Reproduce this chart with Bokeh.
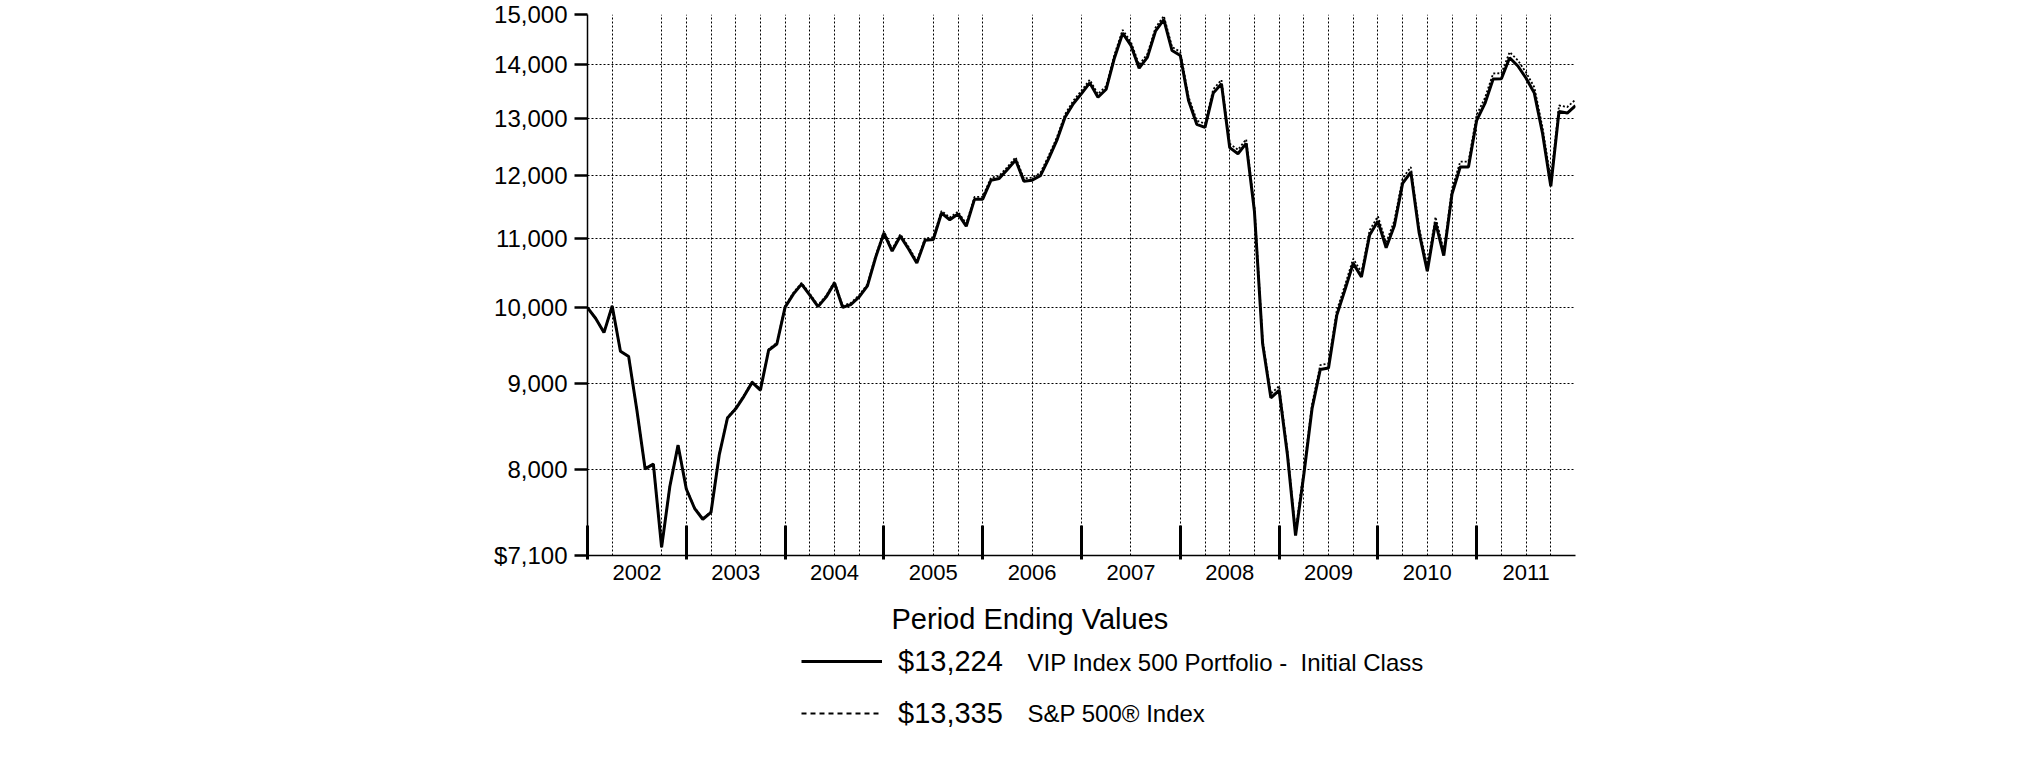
from bokeh.plotting import figure
from bokeh.layouts import column
from bokeh.models import Range1d, FixedTicker, Grid, Legend, LegendItem, Label
from bokeh.embed import file_html
from bokeh.resources import INLINE

# month index: 0 = Dec 2001, 120 = Dec 2011
months = list(range(121))

vip_values = [
    10000, 9853, 9663, 10025, 9417, 9347, 8680, 8003, 8056, 7180, 7811, 8270,
    7784, 7579, 7465, 7537, 8158, 8587, 8696, 8848, 9020, 8924, 9429, 9511,
    10008, 10191, 10332, 10176, 10016, 10152, 10348, 10005, 10045, 10153, 10307, 10724,
    11087, 10816, 11042, 10846, 10638, 10977, 10991, 11399, 11294, 11385, 11194, 11617,
    11620, 11927, 11958, 12106, 12268, 11913, 11929, 12002, 12287, 12603, 13013, 13260,
    13445, 13647, 13378, 13528, 14126, 14618, 14374, 13928, 14136, 14664, 14895, 14271,
    14172, 13320, 12887, 12831, 13455, 13629, 12479, 12374, 12552, 11432, 9513, 8829,
    8922, 8170, 7299, 7938, 8697, 9182, 9200, 9895, 10251, 10633, 10435, 11060,
    11273, 10866, 11202, 11877, 12064, 11099, 10518, 11255, 10747, 11704, 12148, 12148,
    12959, 13265, 13720, 13725, 14129, 13969, 13735, 13455, 12724, 11828, 13120, 13090,
    13224,
]

sp500_values = [
    10000, 9854, 9664, 10027, 9420, 9350, 8684, 8007, 8060, 7184, 7816, 8276,
    7790, 7586, 7472, 7545, 8167, 8597, 8707, 8860, 9033, 8937, 9443, 9526,
    10025, 10209, 10351, 10195, 10035, 10172, 10370, 10027, 10067, 10176, 10331, 10750,
    11115, 10844, 11071, 10875, 10668, 11008, 11023, 11433, 11329, 11421, 11230, 11655,
    11659, 11968, 12000, 12149, 12312, 11957, 11974, 12048, 12335, 12653, 13066, 13314,
    13501, 13705, 13436, 13587, 14189, 14684, 14440, 13993, 14203, 14734, 14968, 14342,
    14243, 13388, 12953, 12898, 13526, 13702, 12547, 12442, 12622, 11497, 9567, 8880,
    8974, 8218, 7343, 7986, 8750, 9239, 9258, 9958, 10317, 10702, 10503, 11133,
    11348, 10940, 11279, 11959, 12148, 11177, 10593, 11336, 10825, 11790, 12238, 12239,
    13057, 13366, 13825, 13831, 14240, 14079, 13844, 13563, 12827, 11925, 13228, 13199,
    13335,
]

year_labels = ["2002", "2003", "2004", "2005", "2006", "2007", "2008", "2009", "2010", "2011"]
year_mid = [6, 18, 30, 42, 54, 66, 78, 90, 102, 114]
year_edges = [0, 12, 24, 36, 48, 60, 72, 84, 96, 108]
grid_months = [3, 9, 12, 15, 18, 21, 24, 27, 30, 33, 36, 42, 45, 48, 54, 60, 66,
               72, 75, 78, 81, 84, 87, 90, 93, 96, 99, 102, 105, 108, 111, 114, 117]

ytick_values = [7100, 8000, 9000, 10000, 11000, 12000, 13000, 14000, 15000]
ytick_labels = ["$7,100", "8,000", "9,000", "10,000", "11,000", "12,000", "13,000", "14,000", "15,000"]

legend_values = ["$13,224", "$13,335"]
series_names = ["VIP Index 500 Portfolio - \u00a0Initial Class", "S&P 500\u00ae Index"]
legend_title = "Period Ending Values"

FONT = "Liberation Sans"

p = figure(width=2020, height=595,
           x_range=Range1d(0, 120), y_range=Range1d(7100, 15000),
           y_axis_type="log", output_backend="svg", toolbar_location=None,
           min_border_left=587, min_border_right=445, min_border_top=14,
           min_border_bottom=40)
p.outline_line_color = None
p.background_fill_color = "white"
p.border_fill_color = "white"

# y axis
p.yaxis.ticker = FixedTicker(ticks=ytick_values, minor_ticks=[])
p.yaxis.major_label_overrides = {v: s for v, s in zip(ytick_values, ytick_labels)}
p.yaxis.major_tick_out = 13
p.yaxis.major_tick_in = 0
p.yaxis.major_tick_line_width = 2.5
p.yaxis.major_tick_line_color = "black"
p.yaxis.minor_tick_line_color = None
p.yaxis.axis_line_width = 1.5
p.yaxis.axis_line_color = "black"
p.yaxis.major_label_standoff = 7
p.yaxis.major_label_text_font = FONT
p.yaxis.major_label_text_font_size = "24px"
p.yaxis.major_label_text_color = "black"

# x axis
p.xaxis.ticker = FixedTicker(ticks=year_mid, minor_ticks=year_edges)
p.xaxis.major_label_overrides = {v: s for v, s in zip(year_mid, year_labels)}
p.xaxis.major_tick_line_color = None
p.xaxis.major_tick_in = 0
p.xaxis.major_tick_out = 0
p.xaxis.minor_tick_in = 30
p.xaxis.minor_tick_out = 4
p.xaxis.minor_tick_line_width = 3
p.xaxis.minor_tick_line_color = "black"
p.xaxis.axis_line_width = 1.5
p.xaxis.axis_line_color = "black"
p.xaxis.major_label_standoff = 5
p.xaxis.major_label_text_font = FONT
p.xaxis.major_label_text_font_size = "22px"
p.xaxis.major_label_text_color = "black"

# grids
p.xgrid.ticker = FixedTicker(ticks=grid_months)
p.xgrid.grid_line_color = "black"
p.xgrid.grid_line_dash = "2 2"
p.xgrid.grid_line_width = 1
p.ygrid.ticker = FixedTicker(ticks=ytick_values[1:])
p.ygrid.grid_line_color = "black"
p.ygrid.grid_line_dash = "2 2"
p.ygrid.grid_line_width = 1

top_line = Grid(dimension=1, ticker=FixedTicker(ticks=[ytick_values[-1]]),
                grid_line_color="black", grid_line_width=2)
p.add_layout(top_line)

# series
p.line(months, vip_values, line_color="black", line_width=3)
p.line(months, sp500_values, line_color="black", line_width=1.8, line_dash="2 2")

# legend panel below the chart (its frame is aligned with the chart frame: x 587..1575)
q = figure(width=2020, height=160, x_range=Range1d(0, 120), y_range=Range1d(0, 1),
           output_backend="svg", toolbar_location=None,
           x_axis_location=None, y_axis_location=None,
           min_border_left=587, min_border_right=445, min_border_top=0, min_border_bottom=0)
q.outline_line_color = None
q.xgrid.visible = False
q.ygrid.visible = False
q.background_fill_color = "white"
q.border_fill_color = "white"

# legend proxies: the same series, outside this panel's visible range
l_vip = q.line(months, vip_values, line_color="black", line_width=3)
l_sp = q.line(months, sp500_values, line_color="black", line_width=2, line_dash="5 4")

legend = Legend(items=[LegendItem(label=legend_values[0], renderers=[l_vip]),
                       LegendItem(label=legend_values[1], renderers=[l_sp])],
                location=(214, 25.5), orientation="vertical",
                border_line_color=None, background_fill_alpha=0,
                padding=0, margin=0, spacing=19,
                glyph_width=81, glyph_height=32, label_height=32,
                label_standoff=16, label_text_font=FONT,
                label_text_font_size="29px", label_text_color="black")
q.add_layout(legend)

q.add_layout(Label(x=304, y=137, x_units="screen", y_units="screen",
                   text=legend_title, text_font=FONT, text_font_size="29px",
                   text_color="black", text_align="left", text_baseline="alphabetic"))
q.add_layout(Label(x=440, y=93, x_units="screen", y_units="screen",
                   text=series_names[0], text_font=FONT, text_font_size="24px",
                   text_color="black", text_align="left", text_baseline="alphabetic"))
q.add_layout(Label(x=440, y=42, x_units="screen", y_units="screen",
                   text=series_names[1], text_font=FONT, text_font_size="24px",
                   text_color="black", text_align="left", text_baseline="alphabetic"))

open("out.html", "w").write(file_html(column(p, q), INLINE))
